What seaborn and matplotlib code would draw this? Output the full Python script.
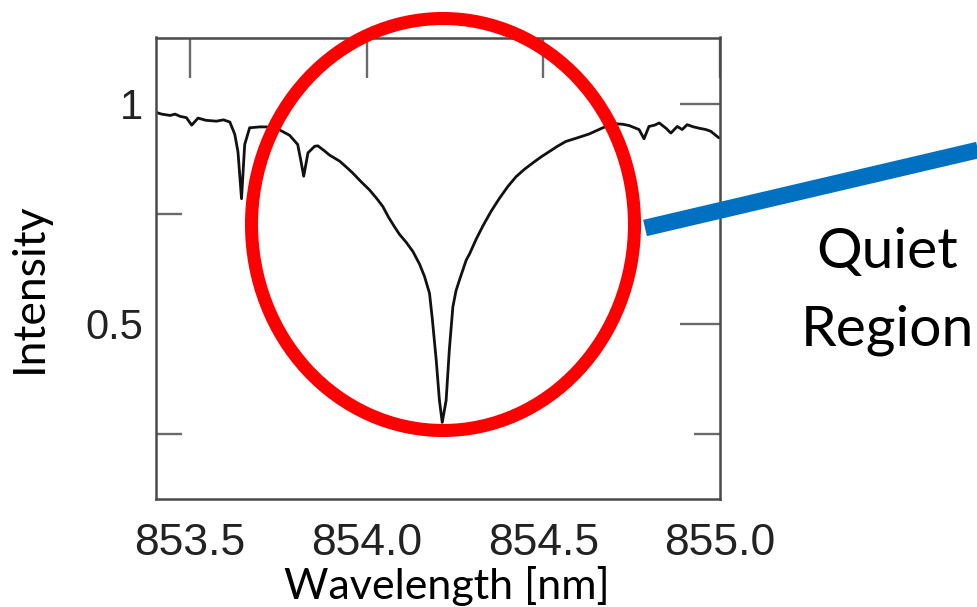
import matplotlib
matplotlib.use("Agg")
import matplotlib.pyplot as plt
from matplotlib.patches import Ellipse
import numpy as np
import pandas as pd
import seaborn as sns

# ---- data ----
wavelength = [853.404, 853.420, 853.444, 853.458, 853.472, 853.490, 853.505,
              853.523, 853.545, 853.575, 853.595, 853.613, 853.627, 853.636,
              853.646, 853.655, 853.669, 853.698, 853.717, 853.736, 853.754,
              853.782, 853.805, 853.814, 853.822, 853.834, 853.853, 853.862,
              853.880, 853.895, 853.924, 853.945, 853.961, 853.985, 854.008,
              854.030, 854.046, 854.062, 854.079, 854.093, 854.112, 854.131,
              854.150, 854.164, 854.178, 854.186, 854.197, 854.206, 854.214,
              854.225, 854.234, 854.244, 854.253, 854.263, 854.282, 854.291,
              854.310, 854.329, 854.352, 854.376, 854.400, 854.423, 854.447,
              854.470, 854.494, 854.517, 854.540, 854.564, 854.588, 854.611,
              854.630, 854.649, 854.677, 854.705, 854.725, 854.743, 854.771,
              854.785, 854.799, 854.815, 854.828, 854.847, 854.861, 854.879,
              854.893, 854.907, 854.925, 854.941, 854.960, 854.974, 854.997]
intensity = [0.980, 0.976, 0.973, 0.976, 0.971, 0.968, 0.951,
             0.967, 0.962, 0.960, 0.963, 0.958, 0.930, 0.890,
             0.784, 0.907, 0.945, 0.947, 0.947, 0.944, 0.940,
             0.928, 0.907, 0.870, 0.835, 0.888, 0.903, 0.904,
             0.893, 0.883, 0.869, 0.854, 0.842, 0.822, 0.804,
             0.783, 0.766, 0.742, 0.720, 0.703, 0.685, 0.664,
             0.635, 0.607, 0.569, 0.510, 0.417, 0.326, 0.276,
             0.326, 0.440, 0.538, 0.575, 0.600, 0.645, 0.658,
             0.692, 0.722, 0.755, 0.785, 0.812, 0.834, 0.851,
             0.865, 0.879, 0.891, 0.903, 0.914, 0.920, 0.926,
             0.931, 0.938, 0.948, 0.954, 0.953, 0.950, 0.941,
             0.920, 0.948, 0.951, 0.956, 0.944, 0.933, 0.948,
             0.941, 0.952, 0.947, 0.944, 0.941, 0.937, 0.922]
x_ticks = [853.5, 854.0, 854.5, 855.0]
x_tick_labels = ["853.5", "854.0", "854.5", "855.0"]
y_major_ticks = [0.5, 1.0]
y_major_labels = ["0.5", "1"]
y_minor_ticks = [0.25, 0.75]
x_label = "Wavelength [nm]"
y_label = "Intensity"
callout_lines = ["Quiet", "Region"]

df = pd.DataFrame({"wavelength": wavelength, "intensity": intensity})

sns.set_theme(style="white")
plt.rcParams["font.family"] = ["Liberation Sans", "DejaVu Sans"]

W, H = 978, 607
fig = plt.figure(figsize=(W / 100, H / 100), dpi=100)
fig.patch.set_facecolor("white")

def fx(px):
    return px / W

def fy(py):
    return 1 - py / H

ax = fig.add_axes([fx(156), fy(499), fx(720) - fx(156), fy(37.5) - fy(499)])
ax.set_facecolor("white")

sns.lineplot(data=df, x="wavelength", y="intensity", ax=ax, color="#111111",
             linewidth=2.0, estimator=None, sort=False)

ax.set_xlim(853.404, 855.0)
ax.set_ylim(0.102, 1.150)
ax.set_xlabel("")
ax.set_ylabel("")

ax.set_xticks(x_ticks)
ax.set_xticklabels(x_tick_labels)
ax.set_yticks(y_major_ticks)
ax.set_yticklabels(y_major_labels)
ax.set_yticks(y_minor_ticks, minor=True)

tick_color = "#6a6a6a"
ax.tick_params(axis="both", which="major", direction="in", length=29, width=1.7,
               color=tick_color, top=True, right=True)
ax.tick_params(axis="y", which="minor", direction="in", length=19, width=1.7,
               color=tick_color, left=True, right=True)
ax.tick_params(axis="x", which="major", labelsize=32, pad=17, labelcolor="#222222")
ax.tick_params(axis="y", which="major", labelsize=30, pad=9, labelcolor="#222222")

for s in ax.spines.values():
    s.set_visible(True)
    s.set_color("#4a4a4a")
    s.set_linewidth(1.8)

label_font = ["Lato", "DejaVu Sans"]
fig.text(fx(447), fy(599), x_label, ha="center", va="baseline",
         fontsize=31, family=label_font, color="black")
fig.text(fx(29), fy(288), y_label, ha="center", va="center", rotation=90,
         fontsize=32, family=label_font, color="black")

fig.text(fx(887), fy(268), callout_lines[0], ha="center", va="baseline",
         fontsize=41, family=label_font, color="black")
fig.text(fx(887), fy(345), callout_lines[1], ha="center", va="baseline",
         fontsize=41, family=label_font, color="black")

# red ellipse around the line core and blue connector (annotation, figure pixels)
overlay = fig.add_axes([0, 0, 1, 1], facecolor="none")
overlay.set_xlim(0, W)
overlay.set_ylim(H, 0)
overlay.axis("off")
overlay.add_patch(Ellipse((443, 224.5), 383, 412, fill=False,
                          edgecolor="#ff0000", linewidth=9.4))
overlay.plot([645, 1010], [228, 142.5], color="#0070c0", linewidth=12,
             solid_capstyle="butt")

fig.savefig("out.png", dpi=100, facecolor="white")
